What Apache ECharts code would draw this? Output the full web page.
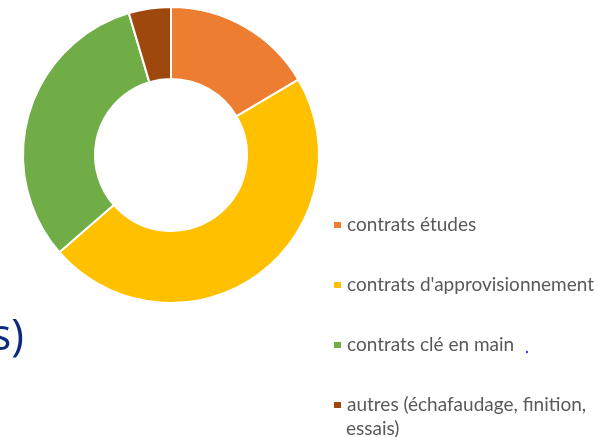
<!DOCTYPE html>
<html lang="fr">
<head>
    <meta charset="UTF-8">
    <title>Contrats</title>
    <script src="https://cdn.jsdelivr.net/npm/echarts@6/dist/echarts.min.js"></script>
</head>
<body style="margin:0;width:597px;height:437px;background:#fff">
    <div id="container" style="width:597px;height:437px"></div>
</body>
<script>
    // parts du graphique (en %)
    var categories = ['contrats études', "contrats d'approvisionnement", 'contrats clé en main', 'autres (échafaudage, finition, essais)'];
    var values = [16.5, 47.1, 31.8, 4.6];
    var colors = ['#ED7D31', '#FFC000', '#70AD47', '#9E480E'];

    var dom = document.getElementById("container");
    var myChart = echarts.init(dom);

    var data = [];
    for (var i = 0; i < categories.length; i++) {
        data.push({name: categories[i], value: values[i], itemStyle: {color: colors[i]}});
    }

    option = {
        animation: false,
        legend: {
            orient: 'vertical',
            left: 327,
            top: 209,
            itemWidth: 9,
            itemHeight: 8,
            itemGap: 38,
            icon: 'rect',
            selectedMode: false,
            textStyle: {
                fontFamily: 'Lato',
                fontSize: 19,
                lineHeight: 22,
                color: '#595959'
            },
            formatter: function (name) {
                return name === categories[3] ? 'autres (échafaudage, finition,' : name;
            },
            data: categories
        },
        graphic: [
            {
                type: 'text', x: 346, y: 429,
                style: {text: 'essais)', font: '19px Lato', fill: '#595959', verticalAlign: 'middle'}
            },
            {
                type: 'text', right: 573, top: 316,
                style: {text: 's)', font: '43px "Open Sans"', fill: '#0B2A7E'}
            },
            {
                type: 'circle', shape: {cx: 527, cy: 352, r: 1.2},
                style: {fill: '#3344dd'}
            }
        ],
        series: [{
            type: 'pie',
            center: [171, 155],
            radius: [76, 148],
            startAngle: 90,
            clockwise: true,
            label: {show: false},
            labelLine: {show: false},
            emphasis: {disabled: true},
            itemStyle: {borderColor: '#fff', borderWidth: 2},
            data: data
        }]
    };
    myChart.setOption(option, true);
</script>
</html>
